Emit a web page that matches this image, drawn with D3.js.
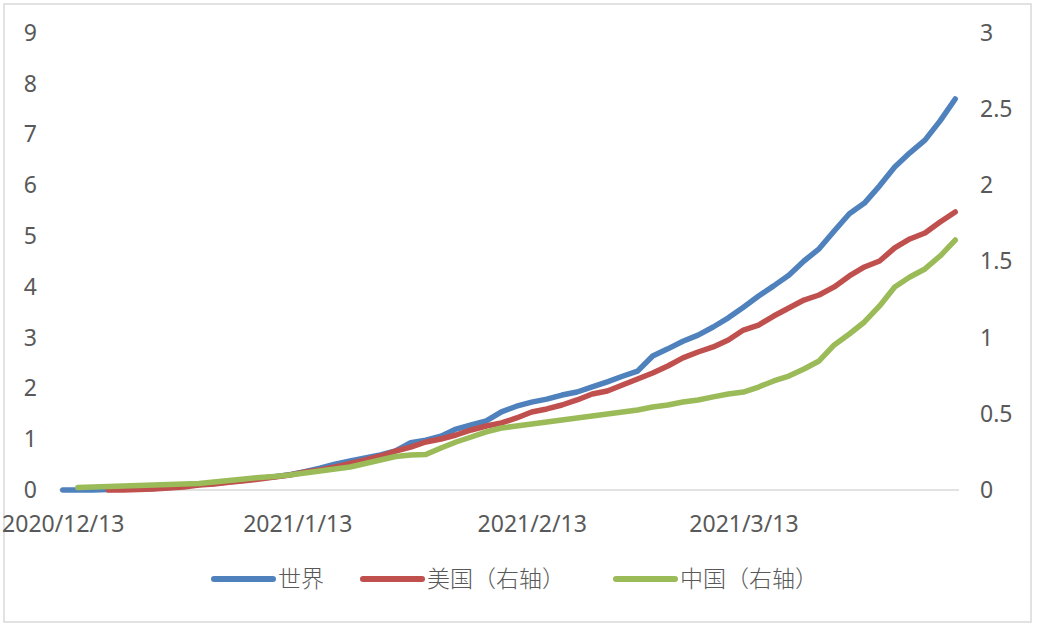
<!DOCTYPE html>
<html>
<head>
<meta charset="utf-8">
<script src="https://cdn.jsdelivr.net/npm/d3@7"></script>
<style>
  html, body { margin: 0; padding: 0; background: #fff; }
  svg { display: block; }
</style>
</head>
<body>
<script>
const width = 1039;
const height = 629;

// dates (every 2 days)
const dates = [
  "2020-12-13","2020-12-15","2020-12-17","2020-12-19","2020-12-21","2020-12-23","2020-12-25","2020-12-27","2020-12-29","2020-12-31",
  "2021-01-02","2021-01-04","2021-01-06","2021-01-08","2021-01-10","2021-01-12","2021-01-14","2021-01-16","2021-01-18","2021-01-20",
  "2021-01-22","2021-01-24","2021-01-26","2021-01-28","2021-01-30","2021-02-01","2021-02-03","2021-02-05","2021-02-07","2021-02-09",
  "2021-02-11","2021-02-13","2021-02-15","2021-02-17","2021-02-19","2021-02-21","2021-02-23","2021-02-25","2021-02-27","2021-03-01",
  "2021-03-03","2021-03-05","2021-03-07","2021-03-09","2021-03-11","2021-03-13","2021-03-15","2021-03-17","2021-03-19","2021-03-21",
  "2021-03-23","2021-03-25","2021-03-27","2021-03-29","2021-03-31","2021-04-02","2021-04-04","2021-04-06","2021-04-08","2021-04-10"
];

// 世界 (左轴)
const world = [
  0, 0, 0, 0.01, 0.02, 0.02, 0.03, 0.05, 0.08, 0.11,
  0.13, 0.16, 0.19, 0.23, 0.26, 0.30, 0.36, 0.43, 0.51, 0.57,
  0.63, 0.69, 0.77, 0.93, 0.98, 1.06, 1.20, 1.28, 1.36, 1.54,
  1.65, 1.73, 1.79, 1.87, 1.93, 2.03, 2.13, 2.24, 2.34, 2.64,
  2.78, 2.93, 3.05, 3.21, 3.39, 3.60, 3.82, 4.02, 4.23, 4.51,
  4.75, 5.10, 5.44, 5.65, 5.99, 6.36, 6.64, 6.89, 7.27, 7.70
];

// 美国 (右轴)
const usa = [
  null, null, null, 0, 0, 0.003, 0.007, 0.013, 0.02, 0.033,
  0.04, 0.05, 0.06, 0.072, 0.085, 0.098, 0.118, 0.131, 0.151, 0.174,
  0.197, 0.223, 0.256, 0.282, 0.315, 0.335, 0.361, 0.394, 0.42, 0.44,
  0.473, 0.512, 0.532, 0.558, 0.591, 0.63, 0.65, 0.689, 0.729, 0.768,
  0.814, 0.867, 0.906, 0.939, 0.985, 1.05, 1.083, 1.142, 1.195, 1.247,
  1.28, 1.333, 1.405, 1.464, 1.503, 1.589, 1.648, 1.687, 1.759, 1.825
];

// 中国 (右轴)
const china = [
  null, 0.016, 0.02, 0.023, 0.026, 0.03, 0.033, 0.036, 0.039, 0.043,
  0.052, 0.062, 0.072, 0.082, 0.089, 0.098, 0.112, 0.125, 0.138, 0.151,
  0.174, 0.197, 0.22, 0.23, 0.233, 0.276, 0.315, 0.348, 0.381, 0.407,
  0.42, 0.433, 0.446, 0.46, 0.473, 0.486, 0.499, 0.512, 0.525, 0.545,
  0.558, 0.578, 0.591, 0.611, 0.63, 0.643, 0.676, 0.716, 0.748, 0.794,
  0.847, 0.952, 1.024, 1.103, 1.208, 1.333, 1.398, 1.451, 1.536, 1.641
];

const xTickDates = ["2020-12-13", "2021-01-13", "2021-02-13", "2021-03-13"];
const leftTicks = [0, 1, 2, 3, 4, 5, 6, 7, 8, 9];
const rightTicks = [0, 0.5, 1, 1.5, 2, 2.5, 3];

const seriesNames = ["世界", "美国（右轴）", "中国（右轴）"];
const colors = ["#4F81BD", "#C0504D", "#9BBB59"];

const parse = d3.timeParse("%Y-%m-%d");
const fmt = d3.timeFormat("%Y/%-m/%-d");
const dateObjs = dates.map(parse);

const svg = d3.select("body")
    .append("svg")
    .attr("width", width)
    .attr("height", height);

// 外枠
svg.append("rect")
    .attr("x", 4).attr("y", 4)
    .attr("width", 1027).attr("height", 618)
    .attr("fill", "#fff")
    .attr("stroke", "#d9d9d9")
    .attr("stroke-width", 1.5);

const plotL = 59, plotR = 959, plotT = 33, plotB = 490;

const x = d3.scaleTime()
    .domain([d3.timeHour.offset(dateObjs[0], -12), d3.timeHour.offset(dateObjs[dateObjs.length - 1], 12)])
    .range([plotL, plotR]);

const yL = d3.scaleLinear().domain([0, 9]).range([plotB, plotT]);
const yR = d3.scaleLinear().domain([0, 3]).range([plotB, plotT]);

const tickFont = "'Noto Sans', 'DejaVu Sans', sans-serif";

// 横軸の線
svg.append("line")
    .attr("x1", plotL).attr("x2", plotR)
    .attr("y1", plotB).attr("y2", plotB)
    .attr("stroke", "#d9d9d9")
    .attr("stroke-width", 1.5);

// 左軸
const gL = svg.append("g")
    .attr("transform", `translate(${plotL - 22},0)`)
    .call(d3.axisLeft(yL).tickValues(leftTicks).tickSize(0).tickPadding(0));
// 右軸
const gR = svg.append("g")
    .attr("transform", `translate(980,0)`)
    .call(d3.axisRight(yR).tickValues(rightTicks).tickFormat(d3.format("~g")).tickSize(0).tickPadding(0));
// 下軸
const gB = svg.append("g")
    .attr("transform", `translate(0,${plotB + 26})`)
    .call(d3.axisBottom(x).tickValues(xTickDates.map(parse)).tickFormat(fmt).tickSize(0).tickPadding(0));

[gL, gR, gB].forEach(g => {
    g.select(".domain").remove();
    g.selectAll("text")
        .attr("fill", "#595959")
        .style("font-family", tickFont)
        .style("font-size", "23px");
});
gB.selectAll("text").attr("dy", "0.71em");

// 折れ線
const lineL = d3.line()
    .defined(d => d.v != null)
    .x(d => x(d.date))
    .y(d => yL(d.v));
const lineR = d3.line()
    .defined(d => d.v != null)
    .x(d => x(d.date))
    .y(d => yR(d.v));

const series = [world, usa, china];
series.forEach((vals, i) => {
    const pts = vals.map((v, j) => ({ date: dateObjs[j], v: v }));
    svg.append("path")
        .datum(pts)
        .attr("fill", "none")
        .attr("stroke", colors[i])
        .attr("stroke-width", 5.5)
        .attr("stroke-linejoin", "round")
        .attr("stroke-linecap", "round")
        .attr("d", i === 0 ? lineL : lineR);
});

// 凡例
const legendY = 579;
const legendItems = [
    { x1: 214, x2: 273, tx: 278 },
    { x1: 363, x2: 422, tx: 427 },
    { x1: 616, x2: 675, tx: 680 }
];
const legend = svg.append("g");
legendItems.forEach((it, i) => {
    legend.append("line")
        .attr("x1", it.x1).attr("x2", it.x2)
        .attr("y1", legendY).attr("y2", legendY)
        .attr("stroke", colors[i])
        .attr("stroke-width", 6)
        .attr("stroke-linecap", "round");
    legend.append("text")
        .attr("x", it.tx)
        .attr("y", legendY)
        .attr("dy", "0.36em")
        .attr("fill", "#595959")
        .style("font-family", "'Noto Sans CJK SC', sans-serif")
        .style("font-size", "23px")
        .style("font-weight", 300)
        .text(seriesNames[i]);
});
</script>
</body>
</html>
